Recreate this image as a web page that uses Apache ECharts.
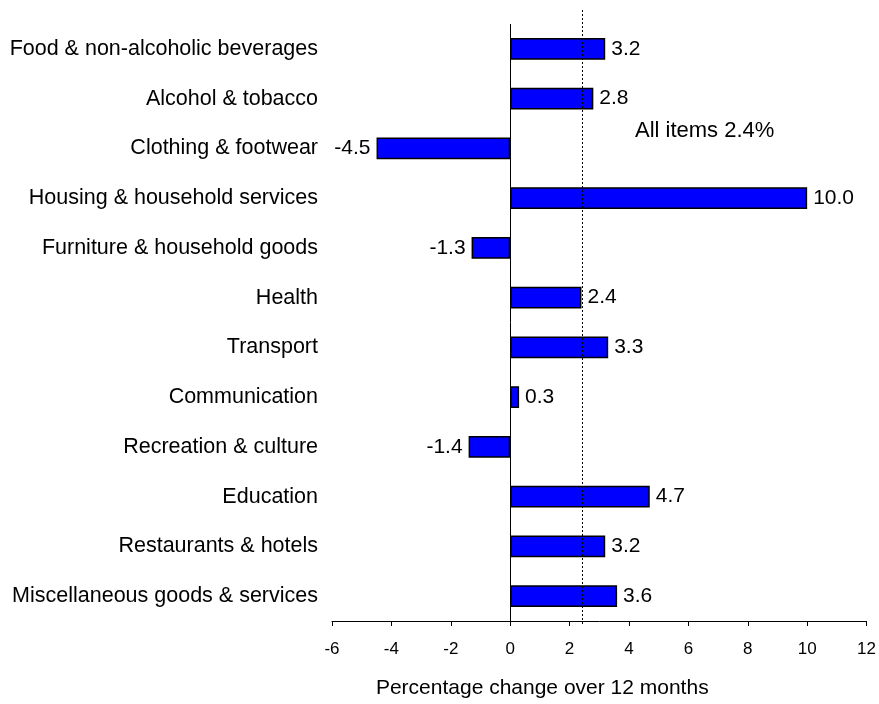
<!DOCTYPE html>
<html><head><meta charset="utf-8">
<script src="https://cdn.jsdelivr.net/npm/echarts@6/dist/echarts.min.js"></script>
<style>html,body{margin:0;padding:0;background:#fff}#c{width:879px;height:704px}</style>
</head><body><div id="c"></div>
<script>
const categories = ["Food & non-alcoholic beverages","Alcohol & tobacco","Clothing & footwear","Housing & household services","Furniture & household goods","Health","Transport","Communication","Recreation & culture","Education","Restaurants & hotels","Miscellaneous goods & services"];
const values = [3.2, 2.8, -4.5, 10.0, -1.3, 2.4, 3.3, 0.3, -1.4, 4.7, 3.2, 3.6];
const allItems = 2.4;
const allItemsLabel = "All items 2.4%";
const xMin = -6, xMax = 12, xStep = 2;
const axisTitle = "Percentage change over 12 months";

const font = "Liberation Sans, Arial, sans-serif";
const chart = echarts.init(document.getElementById('c'));
chart.setOption({
  animation: false,
  grid: [
    {left: 332, right: 11, top: 24, bottom: 80},
    {left: 332, right: 11, top: 8, bottom: 80}
  ],
  xAxis: [{
    type: 'value', gridIndex: 0, min: xMin, max: xMax, interval: xStep,
    splitLine: {show: false},
    axisLine: {show: true, onZero: false, lineStyle: {color: '#000', width: 1}},
    axisTick: {show: true, length: 5, lineStyle: {color: '#000'}},
    axisLabel: {color: '#000', fontFamily: font, fontSize: 17, margin: 20},
    name: axisTitle, nameLocation: 'middle', nameGap: 57,
    nameTextStyle: {color: '#000', fontFamily: font, fontSize: 21, padding: [0, 114, 0, 0]}
  }, {
    type: 'value', gridIndex: 1, min: xMin, max: xMax, show: false
  }],
  yAxis: [{
    type: 'category', gridIndex: 0, data: categories, inverse: true,
    axisLine: {show: false}, axisTick: {show: false},
    axisLabel: {color: '#000', fontFamily: font, fontSize: 21.5, margin: 14}
  }, {
    type: 'value', gridIndex: 1, min: 0, max: 1, show: false
  }],
  graphic: [{
    type: 'text', left: 635, top: 120,
    style: {text: allItemsLabel, fill: '#000', font: '22px ' + font}
  }],
  series: [{
    type: 'bar', xAxisIndex: 0, yAxisIndex: 0,
    data: values.map(v => v < 0 ? {value: v, label: {position: 'left'}} : v),
    barWidth: '44%',
    itemStyle: {color: '#0000FF', borderColor: '#000', borderWidth: 1.5},
    label: {
      show: true, color: '#000', fontFamily: font, fontSize: 21, distance: 6,
      formatter: p => p.value.toFixed(1),
      position: 'right'
    },
    markLine: {
      silent: true, symbol: 'none', label: {show: false},
      lineStyle: {color: '#000', type: 'solid', width: 1},
      data: [{xAxis: 0}]
    }
  }, {
    type: 'line', xAxisIndex: 1, yAxisIndex: 1, data: [],
    markLine: {
      silent: true, symbol: 'none', label: {show: false},
      lineStyle: {color: '#000', type: [2, 2], width: 1},
      data: [{xAxis: allItems}]
    }
  }]
});
</script></body></html>
